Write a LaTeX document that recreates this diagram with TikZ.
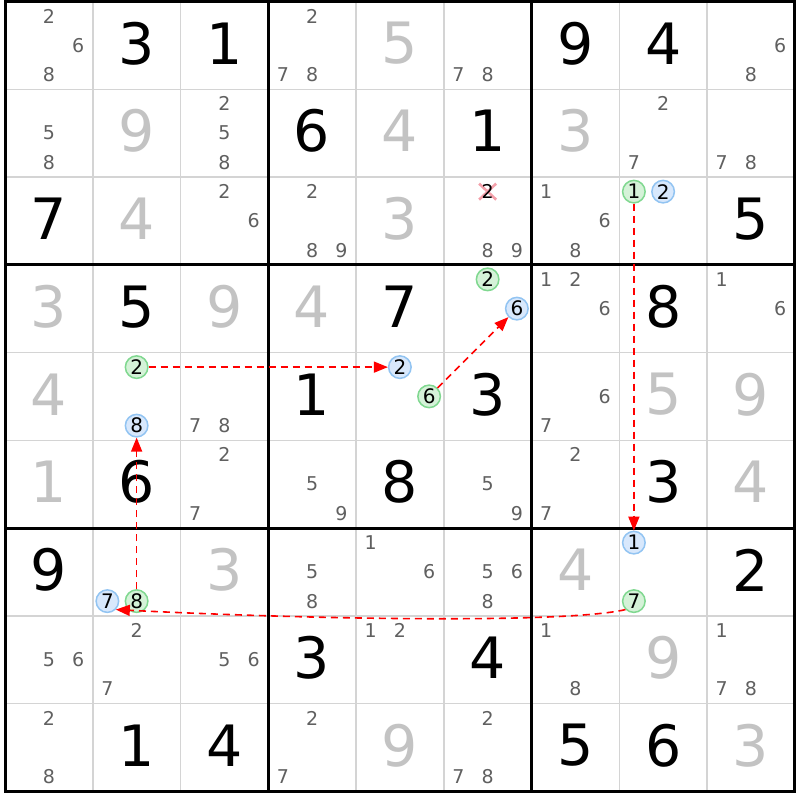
\documentclass[tikz,border=0pt]{standalone}
\usepackage{fontspec}
\setmainfont{DejaVu Sans}
\usetikzlibrary{arrows.meta}
\definecolor{candgray}{HTML}{606060}
\definecolor{solvgray}{HTML}{C3C3C3}
\definecolor{thingray}{HTML}{D4D4D4}
\definecolor{gfill}{HTML}{D5F2D8}
\definecolor{gline}{HTML}{80D890}
\definecolor{bfill}{HTML}{D8E8FC}
\definecolor{bline}{HTML}{92C4F2}
\definecolor{xpink}{HTML}{F4A0AA}
\definecolor{chainred}{HTML}{FF0000}
\def\cs{87.75}
\def\ox{5}
\def\oy{1.5}
\newcommand\cpx[2]{\ox+(#1-1)*\cs+(2*mod(#2-1,3)+1)*\cs/6}
\newcommand\cpy[2]{\oy+(#1-1)*\cs+(2*floor((#2-1)/3)+1)*\cs/6}
\newcommand\sgiven[3]{\node[bigdig] (g-#1-#2) at ({\ox+(#2-0.5)*\cs},{\oy+(#1-0.5)*\cs-2}) {#3};}
\newcommand\ssolved[3]{\node[bigdig,text=solvgray] (g-#1-#2) at ({\ox+(#2-0.5)*\cs},{\oy+(#1-0.5)*\cs-2}) {#3};}
\newcommand\scands[3]{\foreach \d in {#3} {\node[smalldig] (k-#1-#2-\d) at ({\cpx{#2}{\d}},{\cpy{#1}{\d}}) {\d};}}
\newcommand\scirc[4]{\node[#4] (k-#1-#2-#3) at ({\cpx{#2}{#3}},{\cpy{#1}{#3}}) {#3};}
\tikzset{
  bigdig/.style={font=\fontsize{57}{60}\selectfont,text=black,inner sep=0pt},
  smalldig/.style={font=\fontsize{19}{21}\selectfont,text=candgray,inner sep=0pt},
  circbase/.style={circle,line width=1.5pt,minimum size=22.5pt,inner sep=0pt,font=\fontsize{20}{22}\selectfont,text=black},
  circg/.style={circbase,draw=gline,fill=gfill},
  circb/.style={circbase,draw=bline,fill=bfill},
  thinline/.style={draw=thingray,line width=1.5pt},
  thickline/.style={draw=black,line width=3pt},
  chain/.style={draw=chainred,line width=1.6pt,dash pattern=on 7pt off 5pt,-{Triangle[length=14pt,width=11pt]}},
  xmark/.style={draw=xpink,line width=2.6pt}
}
\begin{document}
\begin{tikzpicture}[x=1pt,y=-1pt]
\useasboundingbox (0,0) rectangle (800,800);
\fill[white] (0,0) rectangle (800,800);
% thin grid lines
\foreach \i in {1,2,4,5,7,8} {
  \draw[thinline] ({\ox+\i*\cs},\oy) -- ({\ox+\i*\cs},{\oy+9*\cs});
  \draw[thinline] (\ox,{\oy+\i*\cs}) -- ({\ox+9*\cs},{\oy+\i*\cs});
}
\foreach \i in {3,6} {
  \draw[thickline] ({\ox+\i*\cs},\oy) -- ({\ox+\i*\cs},{\oy+9*\cs});
  \draw[thickline] (\ox,{\oy+\i*\cs}) -- ({\ox+9*\cs},{\oy+\i*\cs});
}
\draw[thickline] (\ox,\oy) rectangle ({\ox+9*\cs},{\oy+9*\cs});
% givens
\sgiven{1}{2}{3}\sgiven{1}{3}{1}\sgiven{1}{7}{9}\sgiven{1}{8}{4}
\sgiven{2}{4}{6}\sgiven{2}{6}{1}
\sgiven{3}{1}{7}\sgiven{3}{9}{5}
\sgiven{4}{2}{5}\sgiven{4}{5}{7}\sgiven{4}{8}{8}
\sgiven{5}{4}{1}\sgiven{5}{6}{3}
\sgiven{6}{2}{6}\sgiven{6}{5}{8}\sgiven{6}{8}{3}
\sgiven{7}{1}{9}\sgiven{7}{9}{2}
\sgiven{8}{4}{3}\sgiven{8}{6}{4}
\sgiven{9}{2}{1}\sgiven{9}{3}{4}\sgiven{9}{7}{5}\sgiven{9}{8}{6}
% solved
\ssolved{1}{5}{5}
\ssolved{2}{2}{9}\ssolved{2}{5}{4}\ssolved{2}{7}{3}
\ssolved{3}{2}{4}\ssolved{3}{5}{3}
\ssolved{4}{1}{3}\ssolved{4}{3}{9}\ssolved{4}{4}{4}
\ssolved{5}{1}{4}\ssolved{5}{8}{5}\ssolved{5}{9}{9}
\ssolved{6}{1}{1}\ssolved{6}{9}{4}
\ssolved{7}{3}{3}\ssolved{7}{7}{4}
\ssolved{8}{8}{9}
\ssolved{9}{5}{9}\ssolved{9}{9}{3}
% candidates
\scands{1}{1}{2,6,8}\scands{1}{4}{2,7,8}\scands{1}{6}{7,8}\scands{1}{9}{6,8}
\scands{2}{1}{5,8}\scands{2}{3}{2,5,8}\scands{2}{8}{2,7}\scands{2}{9}{7,8}
\scands{3}{3}{2,6}\scands{3}{4}{2,8,9}\scands{3}{6}{8,9}\scands{3}{7}{1,6,8}
\scands{4}{7}{1,2,6}\scands{4}{9}{1,6}
\scands{5}{3}{7,8}\scands{5}{7}{6,7}
\scands{6}{3}{2,7}\scands{6}{4}{5,9}\scands{6}{6}{5,9}\scands{6}{7}{2,7}
\scands{7}{4}{5,8}\scands{7}{5}{1,6}\scands{7}{6}{5,6,8}
\scands{8}{1}{5,6}\scands{8}{2}{2,7}\scands{8}{3}{5,6}\scands{8}{5}{1,2}\scands{8}{7}{1,8}\scands{8}{9}{1,7,8}
\scands{9}{1}{2,8}\scands{9}{4}{2,7}\scands{9}{6}{2,7,8}
% eliminated candidate
\coordinate (xc) at ({\cpx{6}{2}},{\cpy{3}{2}});
\draw[xmark] ([shift={(-8.5,-8)}]xc) -- ([shift={(8.5,8)}]xc);
\draw[xmark] ([shift={(-8.5,8)}]xc) -- ([shift={(8.5,-8)}]xc);
\node[smalldig,text=black] (k-3-6-2) at (xc) {2};
% circled candidates
\scirc{3}{8}{1}{circg}\scirc{3}{8}{2}{circb}
\scirc{4}{6}{2}{circg}\scirc{4}{6}{6}{circb}
\scirc{5}{2}{2}{circg}\scirc{5}{2}{8}{circb}
\scirc{5}{5}{2}{circb}\scirc{5}{5}{6}{circg}
\scirc{7}{2}{7}{circb}\scirc{7}{2}{8}{circg}
\scirc{7}{8}{1}{circb}\scirc{7}{8}{7}{circg}
% chain
\draw[chain] (k-3-8-1) -- (k-7-8-1);
\draw[chain] (k-7-8-7.south west) .. controls +(-60,14) and +(200,10) .. (k-7-2-7.south east);
\draw[chain] (k-7-2-8) -- (k-5-2-8);
\draw[chain] (k-5-2-2) -- (k-5-5-2);
\draw[chain] (k-5-5-6) -- (k-4-6-6);
\end{tikzpicture}
\end{document}
